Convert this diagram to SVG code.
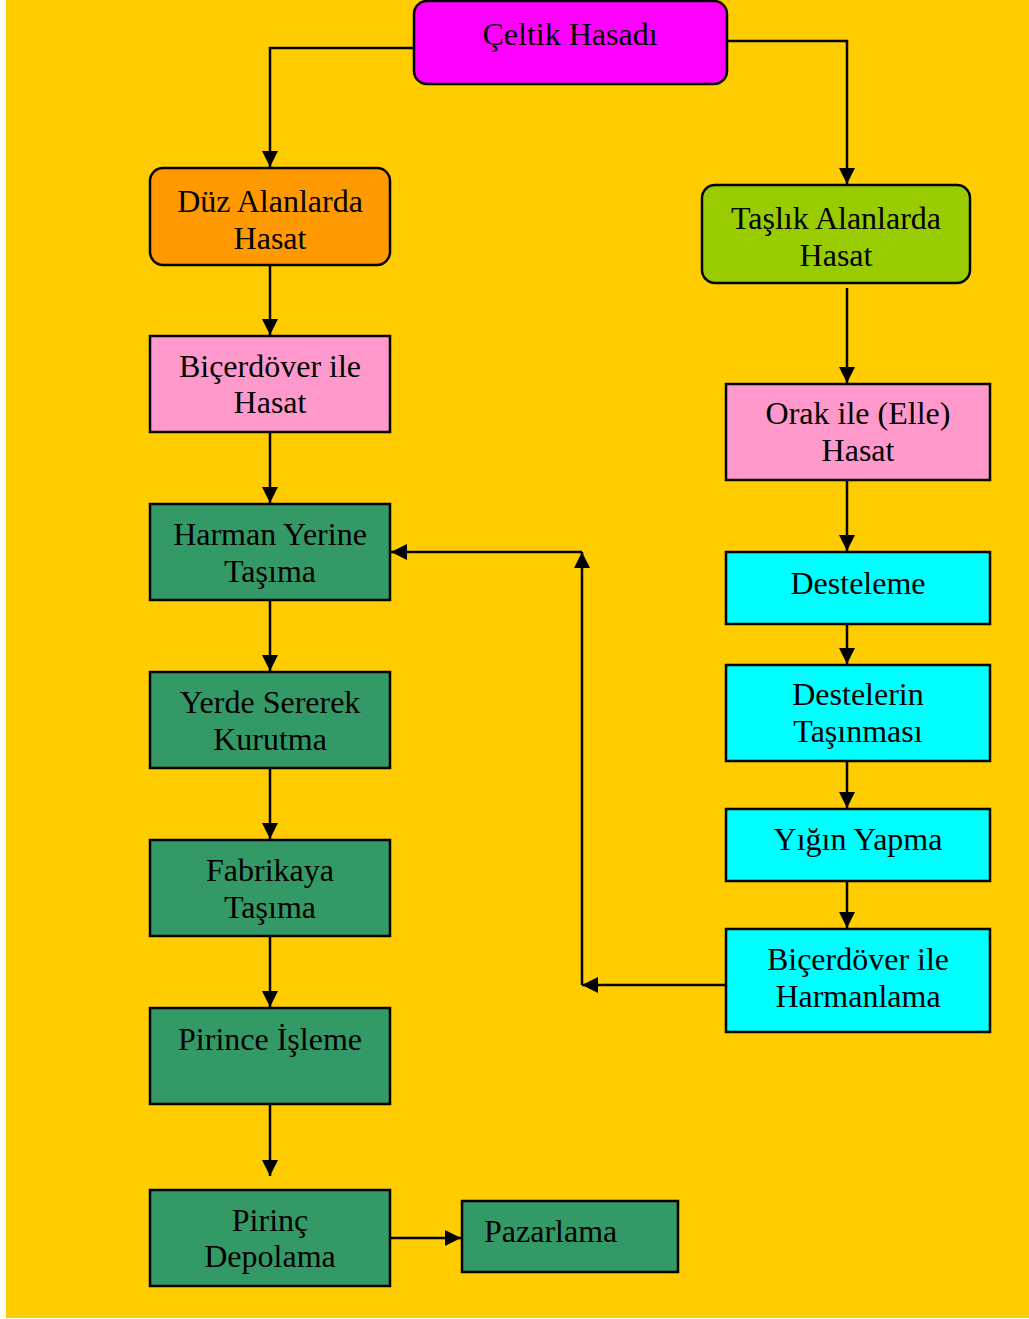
<svg xmlns="http://www.w3.org/2000/svg" width="1029" height="1319" viewBox="0 0 1029 1319">
<style>
.bx{stroke:#000;stroke-width:2.5}
.t{font-family:"Liberation Serif","Times New Roman",serif;font-size:32px;fill:#000;text-anchor:middle}
.c{fill:none;stroke:#000;stroke-width:2.5}
.mag{fill:#FF00FF}.org{fill:#FF9900}.lim{fill:#99CC00}.pnk{fill:#FF99CC}.grn{fill:#339966}.cyn{fill:#00FFFF}
</style>
<defs>
<marker id="ah" markerUnits="userSpaceOnUse" markerWidth="16" markerHeight="16" refX="16" refY="8" orient="auto">
<path d="M0,0 L16,8 L0,16 z" fill="#000"/>
</marker>
</defs>
<rect x="0" y="0" width="1029" height="1319" fill="#fff"/>
<rect x="6" y="0" width="1023" height="1318" fill="#FFCC00"/>
<g id="connectors">
<path class="c" d="M414,48 H270 V167" marker-end="url(#ah)"/>
<path class="c" d="M727,41 H847 V184" marker-end="url(#ah)"/>
<path class="c" d="M270,265 V335" marker-end="url(#ah)"/>
<path class="c" d="M270,432 V503" marker-end="url(#ah)"/>
<path class="c" d="M270,600 V671" marker-end="url(#ah)"/>
<path class="c" d="M270,768 V839" marker-end="url(#ah)"/>
<path class="c" d="M270,936 V1007" marker-end="url(#ah)"/>
<path class="c" d="M270,1104 V1176" marker-end="url(#ah)"/>
<path class="c" d="M390,1238 H461" marker-end="url(#ah)"/>
<path class="c" d="M847,288 V383" marker-end="url(#ah)"/>
<path class="c" d="M847,480 V551" marker-end="url(#ah)"/>
<path class="c" d="M847,624 V664" marker-end="url(#ah)"/>
<path class="c" d="M847,761 V808" marker-end="url(#ah)"/>
<path class="c" d="M847,881 V928" marker-end="url(#ah)"/>
<path class="c" d="M726,985 H582" marker-end="url(#ah)"/>
<path class="c" d="M582,985 V552" marker-end="url(#ah)"/>
<path class="c" d="M582,552 H391" marker-end="url(#ah)"/>
</g>
<g id="celtik-hasadi">
<rect class="bx mag" x="414" y="1" width="313" height="83" rx="13"/>
<text class="t" x="570" y="45">Çeltik Hasadı</text>
</g>
<g id="duz-alanlarda">
<rect class="bx org" x="150" y="168" width="240" height="97" rx="13"/>
<text class="t" x="270" y="212">Düz Alanlarda</text>
<text class="t" x="270" y="249">Hasat</text>
</g>
<g id="taslik-alanlarda">
<rect class="bx lim" x="702" y="185" width="268" height="98" rx="13"/>
<text class="t" x="836" y="229">Taşlık Alanlarda</text>
<text class="t" x="836" y="266">Hasat</text>
</g>
<g id="bicerdover-hasat">
<rect class="bx pnk" x="150" y="336" width="240" height="96"/>
<text class="t" x="270" y="377">Biçerdöver ile</text>
<text class="t" x="270" y="413">Hasat</text>
</g>
<g id="harman-yerine">
<rect class="bx grn" x="150" y="504" width="240" height="96"/>
<text class="t" x="270" y="545">Harman Yerine</text>
<text class="t" x="270" y="582">Taşıma</text>
</g>
<g id="yerde-sererek">
<rect class="bx grn" x="150" y="672" width="240" height="96"/>
<text class="t" x="270" y="713">Yerde Sererek</text>
<text class="t" x="270" y="750">Kurutma</text>
</g>
<g id="fabrikaya">
<rect class="bx grn" x="150" y="840" width="240" height="96"/>
<text class="t" x="270" y="881">Fabrikaya</text>
<text class="t" x="270" y="918">Taşıma</text>
</g>
<g id="pirince-isleme">
<rect class="bx grn" x="150" y="1008" width="240" height="96"/>
<text class="t" x="270" y="1050">Pirince İşleme</text>
</g>
<g id="pirinc-depolama">
<rect class="bx grn" x="150" y="1190" width="240" height="96"/>
<text class="t" x="270" y="1231">Pirinç</text>
<text class="t" x="270" y="1267">Depolama</text>
</g>
<g id="pazarlama">
<rect class="bx grn" x="462" y="1201" width="216" height="71"/>
<text class="t" x="484" y="1242" style="text-anchor:start">Pazarlama</text>
</g>
<g id="orak-ile">
<rect class="bx pnk" x="726" y="384" width="264" height="96"/>
<text class="t" x="858" y="424">Orak ile (Elle)</text>
<text class="t" x="858" y="461">Hasat</text>
</g>
<g id="desteleme">
<rect class="bx cyn" x="726" y="552" width="264" height="72"/>
<text class="t" x="858" y="594">Desteleme</text>
</g>
<g id="destelerin-tasinmasi">
<rect class="bx cyn" x="726" y="665" width="264" height="96"/>
<text class="t" x="858" y="705">Destelerin</text>
<text class="t" x="858" y="742">Taşınması</text>
</g>
<g id="yigin-yapma">
<rect class="bx cyn" x="726" y="809" width="264" height="72"/>
<text class="t" x="858" y="850">Yığın Yapma</text>
</g>
<g id="bicerdover-harmanlama">
<rect class="bx cyn" x="726" y="929" width="264" height="103"/>
<text class="t" x="858" y="970">Biçerdöver ile</text>
<text class="t" x="858" y="1007">Harmanlama</text>
</g>
</svg>
